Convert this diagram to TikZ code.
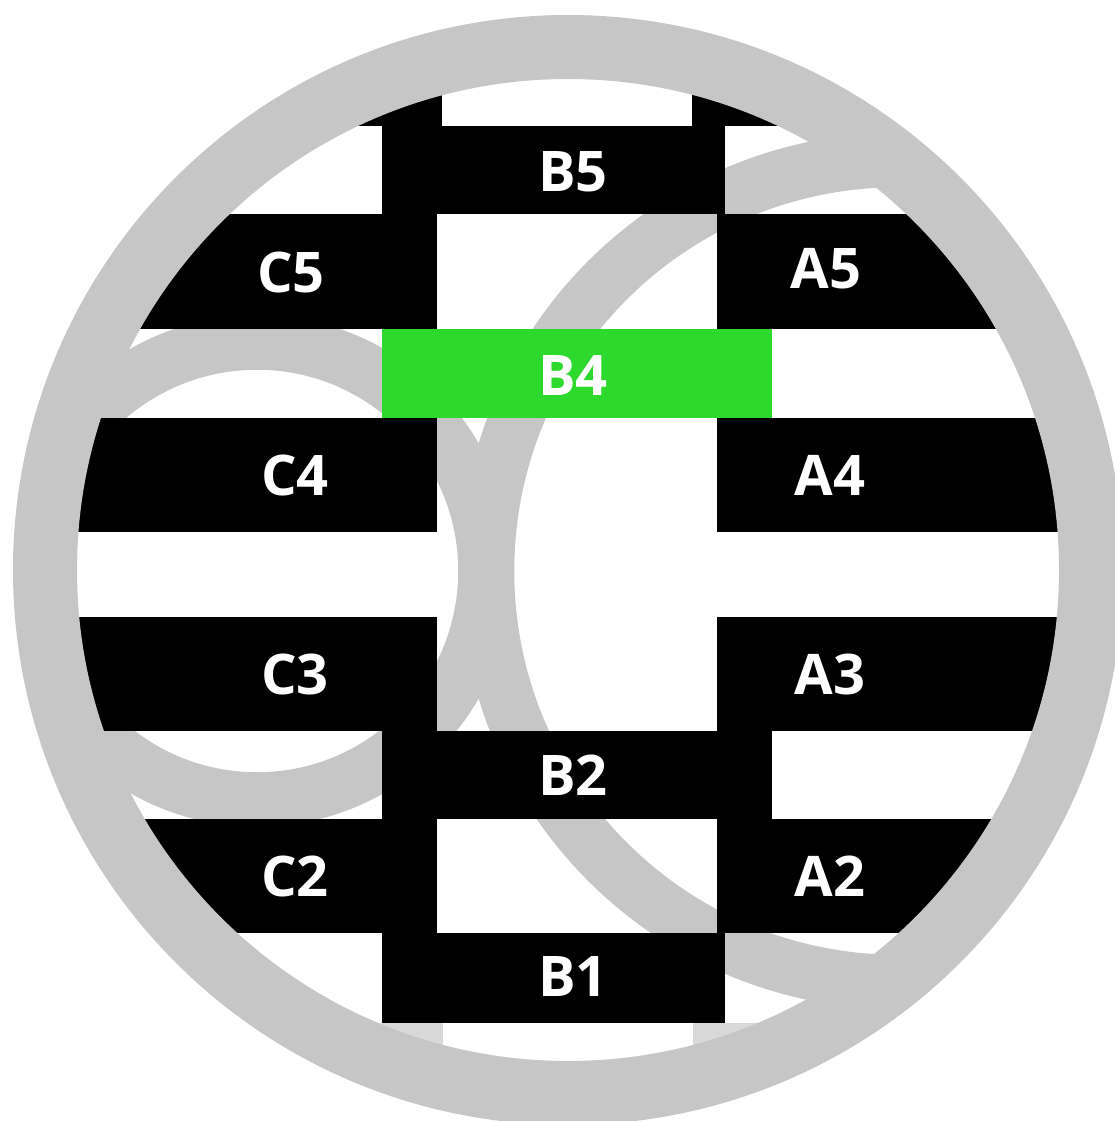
\documentclass[tikz,border=0pt]{standalone}
\usepackage{fontspec}
\setsansfont{Open Sans}
\usepackage{xcolor}
\usetikzlibrary{positioning}
\definecolor{ringgray}{RGB}{198,198,198}
\definecolor{ghostgray}{RGB}{217,217,217}
\definecolor{hotgreen}{RGB}{46,217,46}
\tikzset{
  brick/.style={fill=black},
  hotbrick/.style={fill=hotgreen},
  ghostbrick/.style={fill=ghostgray},
  ring/.style={draw=ringgray,line width=64pt},
  band/.style={draw=ringgray,line width=54.5pt},
  tag/.style={text=white,inner sep=0pt,
    font=\sffamily\bfseries\fontsize{56}{60}\selectfont}
}
\begin{document}
\begin{tikzpicture}[x=1pt,y=-1pt]
  \useasboundingbox (0,0) rectangle (1115,1121);
  \fill[white] (0,0) rectangle (1115,1121);
  \begin{scope}
    \clip (568,570) circle (535pt);
    \draw[band] (257,571) circle (228.5pt);
    \draw[band] (898,571) circle (411pt);
    % rows cut by the rim
    \fill[brick] (0,0) rectangle (442,126);
    \fill[brick] (692,0) rectangle (1115,126);
    \fill[ghostbrick] (0,1023) rectangle (443,1121);
    \fill[ghostbrick] (693,1023) rectangle (1115,1121);
    % middle column
    \fill[brick] (382,126) rectangle (725,214);
    \fill[hotbrick] (382,329) rectangle (772,418);
    \fill[brick] (382,731) rectangle (772,819);
    \fill[brick] (382,933) rectangle (725,1023);
    % left side
    \fill[brick] (0,214) rectangle (437,329);
    \fill[brick] (0,418) rectangle (437,532);
    \fill[brick] (0,617) rectangle (437,731);
    \fill[brick] (0,819) rectangle (437,933);
    % right side
    \fill[brick] (717,214) rectangle (1115,329);
    \fill[brick] (717,418) rectangle (1115,532);
    \fill[brick] (717,617) rectangle (1115,731);
    \fill[brick] (717,819) rectangle (1115,933);
  \end{scope}
  \draw[ring] (568,570) circle (523pt);
  \node[tag] (tB5) at (573,172) {B5};
  \node[tag] (tC5) at (291,272) {C5};
  \node[tag] (tA5) at (826,269) {A5};
  \node[tag] (tB4) at (573,376) {B4};
  \node[tag] (tC4) at (295,475) {C4};
  \node[tag] (tA4) at (830,475) {A4};
  \node[tag] (tC3) at (295,674) {C3};
  \node[tag] (tA3) at (830,674) {A3};
  \node[tag] (tB2) at (573,775) {B2};
  \node[tag] (tC2) at (295,876) {C2};
  \node[tag] (tA2) at (830,876) {A2};
  \node[tag] (tB1) at (573,976) {B1};
\end{tikzpicture}
\end{document}
